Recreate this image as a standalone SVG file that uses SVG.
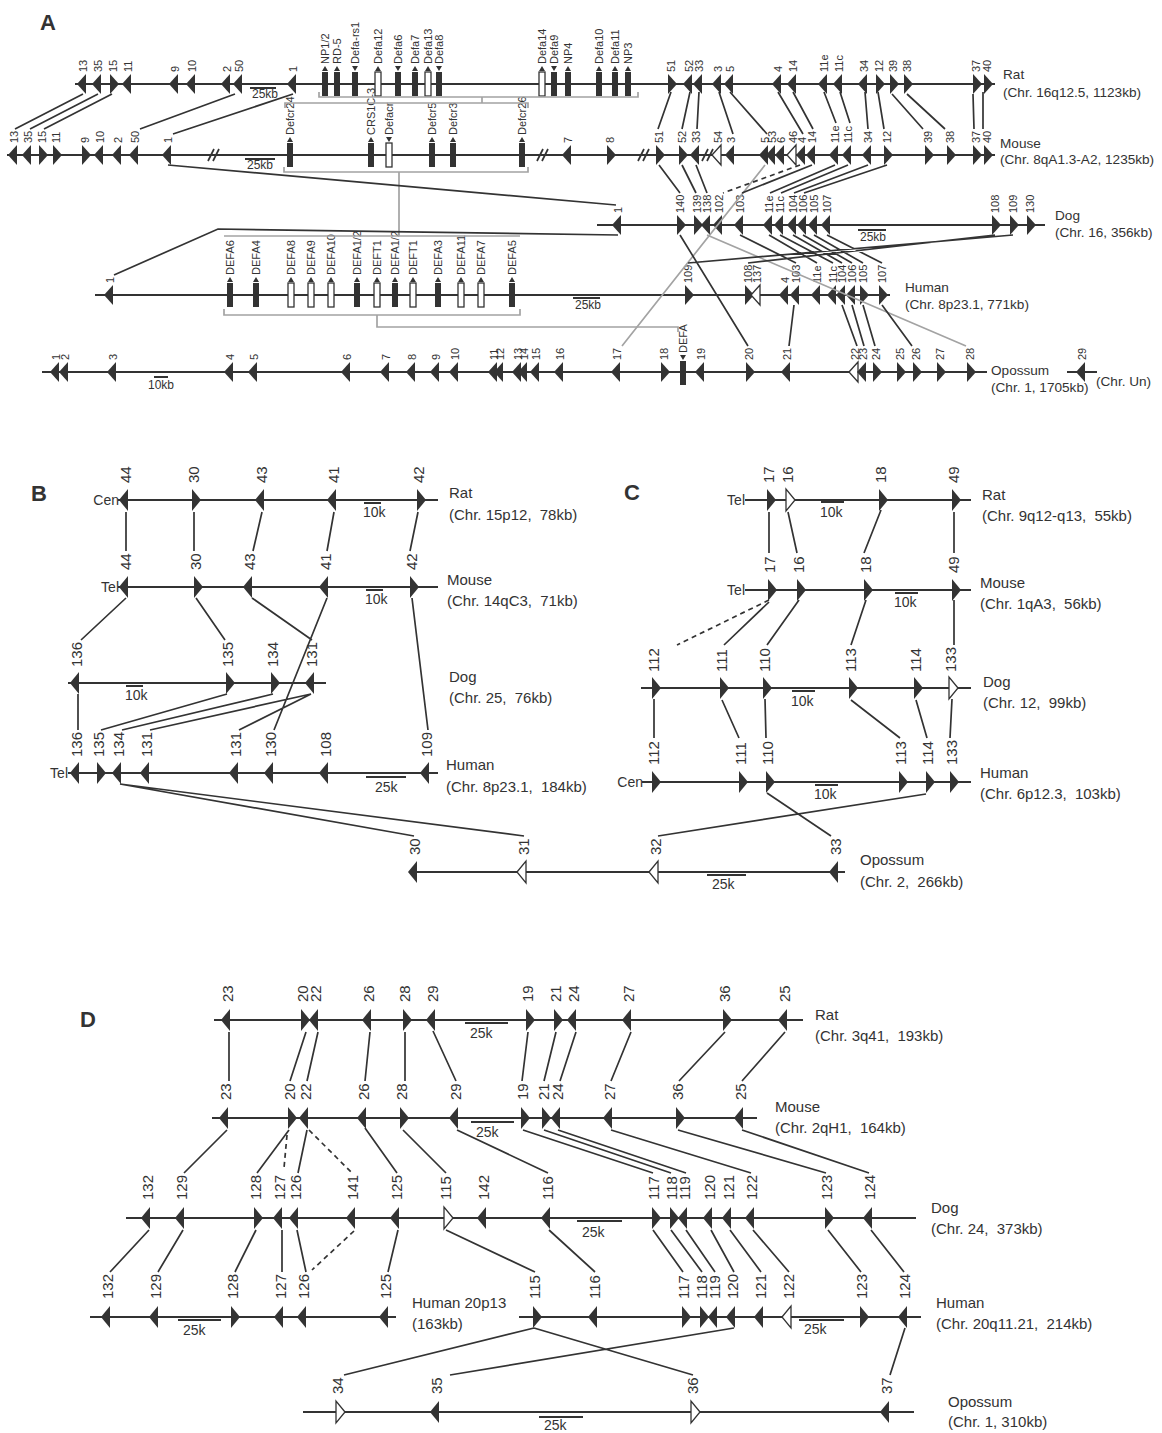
<svg xmlns="http://www.w3.org/2000/svg" xmlns:xlink="http://www.w3.org/1999/xlink" width="1162" height="1433" viewBox="0 0 1162 1433">
<style>
.ch{stroke:#333;stroke-width:2;fill:none}
.c{stroke:#333;stroke-width:1.7;fill:none}
.d{stroke:#333;stroke-width:1.7;fill:none;stroke-dasharray:5 4}
.g{stroke:#a3a3a3;stroke-width:1.7;fill:none}
.sb{stroke:#333;stroke-width:2;fill:none}
.f{fill:#333}
.o{fill:#fff;stroke:#333;stroke-width:1.3}
.rf{fill:#333}
.ro{fill:#fff;stroke:#333;stroke-width:1.3}
text{font-family:"Liberation Sans",Arial,sans-serif;fill:#333}
.na{font-size:11px}
.n{font-size:15px}
.sa{font-size:13.6px}
.s{font-size:15px}
.ka{font-size:12px}
.k{font-size:14px}
.t{font-size:14px;text-anchor:end}
.P{font-size:22px;font-weight:bold}
</style>
<defs>
<polygon id="aL" points="-6,0 3,-10 3,10"/>
<polygon id="aR" points="6,0 -3,-10 -3,10"/>
<polygon id="L" points="-7,0 2,-11 2,11"/>
<polygon id="R" points="7,0 -2,-11 -2,11"/>
</defs>
<rect width="1162" height="1433" fill="#fff"/>

<!-- ================= PANEL A ================= -->
<text class="P" x="40" y="30">A</text>

<g id="A-rat">
<path class="ch" d="M75,84 H995"/>
<use href="#aL" x="83" y="84" class="f"/><use href="#aL" x="98" y="84" class="f"/><use href="#aR" x="113" y="84" class="f"/><use href="#aL" x="128" y="84" class="f"/>
<use href="#aL" x="175" y="84" class="f"/><use href="#aL" x="192" y="84" class="f"/><use href="#aL" x="227" y="84" class="f"/><use href="#aL" x="239" y="84" class="f"/><use href="#aL" x="293" y="84" class="f"/>
<use href="#aR" x="671" y="84" class="f"/><use href="#aL" x="689" y="84" class="f"/><use href="#aL" x="699" y="84" class="f"/><use href="#aL" x="718" y="84" class="f"/><use href="#aL" x="730" y="84" class="f"/>
<use href="#aL" x="778" y="84" class="f"/><use href="#aL" x="793" y="84" class="f"/><use href="#aL" x="824" y="84" class="f"/><use href="#aL" x="839" y="84" class="f"/><use href="#aL" x="864" y="84" class="f"/>
<use href="#aR" x="879" y="84" class="f"/><use href="#aR" x="893" y="84" class="f"/><use href="#aR" x="907" y="84" class="f"/><use href="#aR" x="976" y="84" class="f"/><use href="#aR" x="987" y="84" class="f"/>
<g class="na">
<text transform="translate(87,72) rotate(-90)">13</text><text transform="translate(102,72) rotate(-90)">35</text><text transform="translate(117,72) rotate(-90)">15</text><text transform="translate(132,72) rotate(-90)">11</text>
<text transform="translate(179,72) rotate(-90)">9</text><text transform="translate(196,72) rotate(-90)">10</text><text transform="translate(231,72) rotate(-90)">2</text><text transform="translate(243,72) rotate(-90)">50</text><text transform="translate(297,72) rotate(-90)">1</text>
<text transform="translate(675,72) rotate(-90)">51</text><text transform="translate(693,72) rotate(-90)">52</text><text transform="translate(703,72) rotate(-90)">33</text><text transform="translate(722,72) rotate(-90)">3</text><text transform="translate(734,72) rotate(-90)">5</text>
<text transform="translate(782,72) rotate(-90)">4</text><text transform="translate(797,72) rotate(-90)">14</text><text transform="translate(828,72) rotate(-90)">11e</text><text transform="translate(843,72) rotate(-90)">11c</text><text transform="translate(868,72) rotate(-90)">34</text>
<text transform="translate(883,72) rotate(-90)">12</text><text transform="translate(897,72) rotate(-90)">39</text><text transform="translate(911,72) rotate(-90)">38</text><text transform="translate(980,72) rotate(-90)">37</text><text transform="translate(991,72) rotate(-90)">40</text>
</g>
<rect class="rf" x="322" y="72" width="6" height="24"/><rect class="rf" x="334" y="72" width="6" height="24"/><rect class="rf" x="352" y="72" width="6" height="24"/><rect class="ro" x="375" y="72" width="6" height="24"/>
<rect class="rf" x="395" y="72" width="6" height="24"/><rect class="rf" x="412" y="72" width="6" height="24"/><rect class="ro" x="425" y="72" width="6" height="24"/><rect class="rf" x="436" y="72" width="6" height="24"/>
<rect class="ro" x="539" y="72" width="6" height="24"/><rect class="rf" x="551" y="72" width="6" height="24"/><rect class="rf" x="565" y="72" width="6" height="24"/><rect class="rf" x="596" y="72" width="6" height="24"/><rect class="rf" x="612" y="72" width="6" height="24"/><rect class="rf" x="625" y="72" width="6" height="24"/>
<g class="f">
<polygon points="322,71 325,66 328,71"/><polygon points="334,71 337,66 340,71"/><polygon points="352,66 358,66 355,71"/><polygon points="375,71 378,66 381,71"/>
<polygon points="395,66 401,66 398,71"/><polygon points="412,71 415,66 418,71"/><polygon points="425,71 428,66 431,71"/><polygon points="436,66 442,66 439,71"/>
<polygon points="539,71 542,66 545,71"/><polygon points="551,66 557,66 554,71"/><polygon points="565,71 568,66 571,71"/><polygon points="596,71 599,66 602,71"/><polygon points="612,71 615,66 618,71"/><polygon points="625,71 628,66 631,71"/>
</g>
<g class="na">
<text transform="translate(329,64) rotate(-90)">NP1/2</text><text transform="translate(341,64) rotate(-90)">RD-5</text><text transform="translate(359,64) rotate(-90)">Defa-rs1</text><text transform="translate(382,64) rotate(-90)">Defa12</text>
<text transform="translate(402,64) rotate(-90)">Defa6</text><text transform="translate(419,64) rotate(-90)">Defa7</text><text transform="translate(432,64) rotate(-90)">Defa13</text><text transform="translate(443,64) rotate(-90)">Defa8</text>
<text transform="translate(546,64) rotate(-90)">Defa14</text><text transform="translate(558,64) rotate(-90)">Defa9</text><text transform="translate(572,64) rotate(-90)">NP4</text><text transform="translate(603,64) rotate(-90)">Defa10</text><text transform="translate(619,64) rotate(-90)">Defa11</text><text transform="translate(632,64) rotate(-90)">NP3</text>
</g>
<path class="sb" d="M250,88 H276"/><text class="ka" x="252" y="98">25kb</text>
<text class="sa" x="1003" y="79">Rat</text><text class="sa" x="1003" y="97">(Chr. 16q12.5, 1123kb)</text>
</g>

<g id="A-mouse">
<path class="ch" d="M7,155 H995"/>
<g class="c"><path d="M208,161 L214,149 M213,161 L219,149"/><path d="M537,161 L543,149 M542,161 L548,149"/><path d="M638,161 L644,149 M643,161 L649,149"/><path d="M702,161 L708,149 M707,161 L713,149"/></g>
<use href="#aL" x="14" y="155" class="f"/><use href="#aL" x="28" y="155" class="f"/><use href="#aR" x="42" y="155" class="f"/><use href="#aR" x="56" y="155" class="f"/>
<use href="#aR" x="85" y="155" class="f"/><use href="#aL" x="100" y="155" class="f"/><use href="#aL" x="118" y="155" class="f"/><use href="#aL" x="135" y="155" class="f"/><use href="#aL" x="168" y="155" class="f"/>
<use href="#aL" x="568" y="155" class="f"/><use href="#aR" x="610" y="155" class="f"/>
<use href="#aR" x="659" y="155" class="f"/><use href="#aR" x="682" y="155" class="f"/><use href="#aL" x="696" y="155" class="f"/><use href="#aL" x="718" y="155" class="o"/><use href="#aL" x="731" y="155" class="f"/>
<use href="#aL" x="765" y="155" class="f"/><use href="#aL" x="772" y="155" class="f"/><use href="#aL" x="781" y="155" class="f"/><use href="#aL" x="793" y="155" class="o"/><use href="#aL" x="802" y="155" class="f"/><use href="#aL" x="812" y="155" class="f"/>
<use href="#aL" x="835" y="155" class="f"/><use href="#aL" x="848" y="155" class="f"/><use href="#aL" x="868" y="155" class="f"/><use href="#aR" x="887" y="155" class="f"/>
<use href="#aR" x="928" y="155" class="f"/><use href="#aR" x="950" y="155" class="f"/><use href="#aR" x="976" y="155" class="f"/><use href="#aR" x="987" y="155" class="f"/>
<g class="na">
<text transform="translate(18,143) rotate(-90)">13</text><text transform="translate(32,143) rotate(-90)">35</text><text transform="translate(46,143) rotate(-90)">15</text><text transform="translate(60,143) rotate(-90)">11</text>
<text transform="translate(89,143) rotate(-90)">9</text><text transform="translate(104,143) rotate(-90)">10</text><text transform="translate(122,143) rotate(-90)">2</text><text transform="translate(139,143) rotate(-90)">50</text><text transform="translate(172,143) rotate(-90)">1</text>
<text transform="translate(572,143) rotate(-90)">7</text><text transform="translate(614,143) rotate(-90)">8</text>
<text transform="translate(663,143) rotate(-90)">51</text><text transform="translate(686,143) rotate(-90)">52</text><text transform="translate(700,143) rotate(-90)">33</text><text transform="translate(722,143) rotate(-90)">54</text><text transform="translate(735,143) rotate(-90)">3</text>
<text transform="translate(769,143) rotate(-90)">5</text><text transform="translate(776,143) rotate(-90)">53</text><text transform="translate(785,143) rotate(-90)">6</text><text transform="translate(797,143) rotate(-90)">46</text><text transform="translate(806,143) rotate(-90)">4</text><text transform="translate(816,143) rotate(-90)">14</text>
<text transform="translate(839,143) rotate(-90)">11e</text><text transform="translate(852,143) rotate(-90)">11c</text><text transform="translate(872,143) rotate(-90)">34</text><text transform="translate(891,143) rotate(-90)">12</text>
<text transform="translate(932,143) rotate(-90)">39</text><text transform="translate(954,143) rotate(-90)">38</text><text transform="translate(980,143) rotate(-90)">37</text><text transform="translate(991,143) rotate(-90)">40</text>
</g>
<rect class="rf" x="287" y="143" width="6" height="24"/><rect class="rf" x="368" y="143" width="6" height="24"/><rect class="ro" x="386" y="143" width="6" height="24"/><rect class="rf" x="429" y="143" width="6" height="24"/><rect class="rf" x="450" y="143" width="6" height="24"/><rect class="rf" x="519" y="143" width="6" height="24"/>
<g class="f"><polygon points="287,142 290,137 293,142"/><polygon points="368,142 371,137 374,142"/><polygon points="386,137 392,137 389,142"/><polygon points="429,142 432,137 435,142"/><polygon points="450,142 453,137 456,142"/><polygon points="519,142 522,137 525,142"/></g>
<g class="na">
<text transform="translate(294,135) rotate(-90)">Defcr24</text><text transform="translate(375,135) rotate(-90)">CRS1C-3</text><text transform="translate(393,135) rotate(-90)">Defacr</text><text transform="translate(436,135) rotate(-90)">Defcr5</text><text transform="translate(457,135) rotate(-90)">Defcr3</text><text transform="translate(526,135) rotate(-90)">Defcr26</text>
</g>
<path class="sb" d="M245,159 H275"/><text class="ka" x="247" y="169">25kb</text>
<text class="sa" x="1000" y="148">Mouse</text><text class="sa" x="1000" y="164">(Chr. 8qA1.3-A2, 1235kb)</text>
</g>

<g id="A-dog">
<path class="ch" d="M597,225 H1045"/>
<use href="#aL" x="618" y="225" class="f"/><use href="#aR" x="680" y="225" class="f"/><use href="#aR" x="697" y="225" class="f"/><use href="#aL" x="707" y="225" class="f"/><use href="#aL" x="719" y="225" class="f"/><use href="#aL" x="740" y="225" class="f"/>
<use href="#aL" x="769" y="225" class="f"/><use href="#aL" x="780" y="225" class="f"/><use href="#aL" x="793" y="225" class="f"/><use href="#aL" x="803" y="225" class="f"/><use href="#aL" x="814" y="225" class="f"/><use href="#aL" x="827" y="225" class="f"/>
<use href="#aR" x="995" y="225" class="f"/><use href="#aR" x="1013" y="225" class="f"/><use href="#aR" x="1030" y="225" class="f"/>
<g class="na">
<text transform="translate(622,213) rotate(-90)">1</text><text transform="translate(684,213) rotate(-90)">140</text><text transform="translate(701,213) rotate(-90)">139</text><text transform="translate(711,213) rotate(-90)">138</text><text transform="translate(723,213) rotate(-90)">102</text><text transform="translate(744,213) rotate(-90)">103</text>
<text transform="translate(773,213) rotate(-90)">11e</text><text transform="translate(784,213) rotate(-90)">11c</text><text transform="translate(797,213) rotate(-90)">104</text><text transform="translate(807,213) rotate(-90)">106</text><text transform="translate(818,213) rotate(-90)">105</text><text transform="translate(831,213) rotate(-90)">107</text>
<text transform="translate(999,213) rotate(-90)">108</text><text transform="translate(1017,213) rotate(-90)">109</text><text transform="translate(1034,213) rotate(-90)">130</text>
</g>
<path class="sb" d="M858,230 H886"/><text class="ka" x="860" y="241">25kb</text>
<text class="sa" x="1055" y="220">Dog</text><text class="sa" x="1055" y="237">(Chr. 16, 356kb)</text>
</g>

<g id="A-human">
<path class="ch" d="M95,295 H890"/>
<use href="#aL" x="110" y="295" class="f"/>
<use href="#aR" x="688" y="295" class="f"/><use href="#aR" x="748" y="295" class="f"/><use href="#aL" x="757" y="295" class="o"/><use href="#aL" x="785" y="295" class="f"/><use href="#aL" x="796" y="295" class="f"/>
<use href="#aL" x="817" y="295" class="f"/><use href="#aL" x="833" y="295" class="f"/><use href="#aL" x="842" y="295" class="f"/><use href="#aL" x="852" y="295" class="f"/><use href="#aR" x="863" y="295" class="f"/><use href="#aR" x="882" y="295" class="f"/>
<g class="na">
<text transform="translate(114,283) rotate(-90)">1</text>
<text transform="translate(692,283) rotate(-90)">109</text><text transform="translate(752,283) rotate(-90)">108</text><text transform="translate(761,283) rotate(-90)">137</text><text transform="translate(789,283) rotate(-90)">4</text><text transform="translate(800,283) rotate(-90)">103</text>
<text transform="translate(821,283) rotate(-90)">11e</text><text transform="translate(837,283) rotate(-90)">11c</text><text transform="translate(846,283) rotate(-90)">104</text><text transform="translate(856,283) rotate(-90)">106</text><text transform="translate(867,283) rotate(-90)">105</text><text transform="translate(886,283) rotate(-90)">107</text>
</g>
<rect class="rf" x="227" y="283" width="6" height="24"/><rect class="rf" x="253" y="283" width="6" height="24"/><rect class="ro" x="288" y="283" width="6" height="24"/><rect class="ro" x="308" y="283" width="6" height="24"/><rect class="ro" x="328" y="283" width="6" height="24"/>
<rect class="rf" x="354" y="283" width="6" height="24"/><rect class="ro" x="374" y="283" width="6" height="24"/><rect class="rf" x="392" y="283" width="6" height="24"/><rect class="ro" x="410" y="283" width="6" height="24"/>
<rect class="rf" x="435" y="283" width="6" height="24"/><rect class="ro" x="458" y="283" width="6" height="24"/><rect class="ro" x="478" y="283" width="6" height="24"/><rect class="rf" x="509" y="283" width="6" height="24"/>
<g class="f">
<polygon points="227,282 230,277 233,282"/><polygon points="253,282 256,277 259,282"/><polygon points="288,282 291,277 294,282"/><polygon points="308,282 311,277 314,282"/><polygon points="328,282 331,277 334,282"/>
<polygon points="354,282 357,277 360,282"/><polygon points="374,282 377,277 380,282"/><polygon points="392,282 395,277 398,282"/><polygon points="410,282 413,277 416,282"/>
<polygon points="435,282 438,277 441,282"/><polygon points="458,282 461,277 464,282"/><polygon points="478,282 481,277 484,282"/><polygon points="509,282 512,277 515,282"/>
</g>
<g class="na">
<text transform="translate(234,275) rotate(-90)">DEFA6</text><text transform="translate(260,275) rotate(-90)">DEFA4</text><text transform="translate(295,275) rotate(-90)">DEFA8</text><text transform="translate(315,275) rotate(-90)">DEFA9</text><text transform="translate(335,275) rotate(-90)">DEFA10</text>
<text transform="translate(361,275) rotate(-90)">DEFA1/2</text><text transform="translate(381,275) rotate(-90)">DEFT1</text><text transform="translate(399,275) rotate(-90)">DEFA1/2</text><text transform="translate(417,275) rotate(-90)">DEFT1</text>
<text transform="translate(442,275) rotate(-90)">DEFA3</text><text transform="translate(465,275) rotate(-90)">DEFA11</text><text transform="translate(485,275) rotate(-90)">DEFA7</text><text transform="translate(516,275) rotate(-90)">DEFA5</text>
</g>
<path class="sb" d="M573,298 H600"/><text class="ka" x="575" y="309">25kb</text>
<text class="sa" x="905" y="292">Human</text><text class="sa" x="905" y="309">(Chr. 8p23.1, 771kb)</text>
</g>

<g id="A-opossum">
<path class="ch" d="M42,372 H987"/>
<use href="#aL" x="56" y="372" class="f"/><use href="#aL" x="65" y="372" class="f"/><use href="#aL" x="113" y="372" class="f"/><use href="#aL" x="230" y="372" class="f"/><use href="#aL" x="254" y="372" class="f"/>
<use href="#aL" x="347" y="372" class="f"/><use href="#aL" x="386" y="372" class="f"/><use href="#aL" x="412" y="372" class="f"/><use href="#aL" x="436" y="372" class="f"/><use href="#aL" x="455" y="372" class="f"/>
<use href="#aL" x="494" y="372" class="f"/><use href="#aL" x="500" y="372" class="f"/><use href="#aL" x="518" y="372" class="f"/><use href="#aL" x="524" y="372" class="f"/><use href="#aL" x="536" y="372" class="f"/><use href="#aL" x="560" y="372" class="f"/>
<use href="#aL" x="617" y="372" class="f"/><use href="#aR" x="664" y="372" class="f"/><use href="#aL" x="701" y="372" class="f"/><use href="#aR" x="749" y="372" class="f"/><use href="#aL" x="787" y="372" class="f"/>
<use href="#aL" x="855" y="372" class="o"/><use href="#aL" x="863" y="372" class="f"/><use href="#aR" x="876" y="372" class="f"/><use href="#aR" x="900" y="372" class="f"/><use href="#aR" x="916" y="372" class="f"/><use href="#aR" x="940" y="372" class="f"/><use href="#aR" x="970" y="372" class="f"/>
<rect class="rf" x="680" y="361" width="6" height="24"/><polygon class="f" points="680,355 686,355 683,360"/>
<g class="na">
<text transform="translate(60,360) rotate(-90)">1</text><text transform="translate(69,360) rotate(-90)">2</text><text transform="translate(117,360) rotate(-90)">3</text><text transform="translate(234,360) rotate(-90)">4</text><text transform="translate(258,360) rotate(-90)">5</text>
<text transform="translate(351,360) rotate(-90)">6</text><text transform="translate(390,360) rotate(-90)">7</text><text transform="translate(416,360) rotate(-90)">8</text><text transform="translate(440,360) rotate(-90)">9</text><text transform="translate(459,360) rotate(-90)">10</text>
<text transform="translate(498,360) rotate(-90)">11</text><text transform="translate(504,360) rotate(-90)">12</text><text transform="translate(522,360) rotate(-90)">13</text><text transform="translate(528,360) rotate(-90)">14</text><text transform="translate(540,360) rotate(-90)">15</text><text transform="translate(564,360) rotate(-90)">16</text>
<text transform="translate(621,360) rotate(-90)">17</text><text transform="translate(668,360) rotate(-90)">18</text><text transform="translate(687,353) rotate(-90)">DEFA</text><text transform="translate(705,360) rotate(-90)">19</text><text transform="translate(753,360) rotate(-90)">20</text><text transform="translate(791,360) rotate(-90)">21</text>
<text transform="translate(859,360) rotate(-90)">22</text><text transform="translate(867,360) rotate(-90)">23</text><text transform="translate(880,360) rotate(-90)">24</text><text transform="translate(904,360) rotate(-90)">25</text><text transform="translate(920,360) rotate(-90)">26</text><text transform="translate(944,360) rotate(-90)">27</text><text transform="translate(974,360) rotate(-90)">28</text>
</g>
<path class="sb" d="M154,377 H168"/><text class="ka" x="148" y="389">10kb</text>
<text class="sa" x="991" y="375">Opossum</text><text class="sa" x="991" y="392">(Chr. 1, 1705kb)</text>
</g>
<g id="A-opossum-un">
<path class="ch" d="M1067,372 H1097"/><use href="#aL" x="1082" y="372" class="f"/>
<text class="na" transform="translate(1086,360) rotate(-90)">29</text>
<text class="sa" x="1096" y="386">(Chr. Un)</text>
</g>

<!-- ================= PANEL B ================= -->
<text class="P" x="31" y="501">B</text>
<g id="B-rat">
<text class="t" x="119" y="505">Cen</text>
<path class="ch" d="M118,500 H438"/>
<use href="#L" x="126" y="500" class="f"/><use href="#R" x="194" y="500" class="f"/><use href="#L" x="262" y="500" class="f"/><use href="#L" x="334" y="500" class="f"/><use href="#R" x="419" y="500" class="f"/>
<g class="n"><text transform="translate(131,483) rotate(-90)">44</text><text transform="translate(199,483) rotate(-90)">30</text><text transform="translate(267,483) rotate(-90)">43</text><text transform="translate(339,483) rotate(-90)">41</text><text transform="translate(424,483) rotate(-90)">42</text></g>
<path class="sb" d="M364,503 H381"/><text class="k" x="363" y="517">10k</text>
<text class="s" x="449" y="498">Rat</text><text class="s" x="449" y="520">(Chr. 15p12, <tspan dx="4">78kb)</tspan></text>
</g>
<g id="B-mouse">
<text class="t" x="119" y="592">Tel</text>
<path class="ch" d="M118,587 H438"/>
<use href="#L" x="126" y="587" class="f"/><use href="#R" x="196" y="587" class="f"/><use href="#L" x="250" y="587" class="f"/><use href="#L" x="326" y="587" class="f"/><use href="#R" x="412" y="587" class="f"/>
<g class="n"><text transform="translate(131,570) rotate(-90)">44</text><text transform="translate(201,570) rotate(-90)">30</text><text transform="translate(255,570) rotate(-90)">43</text><text transform="translate(331,570) rotate(-90)">41</text><text transform="translate(417,570) rotate(-90)">42</text></g>
<path class="sb" d="M366,590 H383"/><text class="k" x="365" y="604">10k</text>
<text class="s" x="447" y="585">Mouse</text><text class="s" x="447" y="606">(Chr. 14qC3, <tspan dx="4">71kb)</tspan></text>
</g>
<g id="B-dog">
<path class="ch" d="M68,683 H326"/>
<use href="#L" x="77" y="683" class="f"/><use href="#R" x="228" y="683" class="f"/><use href="#R" x="273" y="683" class="f"/><use href="#L" x="312" y="683" class="f"/>
<g class="n"><text transform="translate(82,667) rotate(-90)">136</text><text transform="translate(233,667) rotate(-90)">135</text><text transform="translate(278,667) rotate(-90)">134</text><text transform="translate(317,667) rotate(-90)">131</text></g>
<path class="sb" d="M126,686 H143"/><text class="k" x="125" y="700">10k</text>
<text class="s" x="449" y="682">Dog</text><text class="s" x="449" y="703">(Chr. 25, <tspan dx="4">76kb)</tspan></text>
</g>
<g id="B-human">
<text class="t" x="68" y="778">Tel</text>
<path class="ch" d="M68,773 H438"/>
<use href="#L" x="77" y="773" class="f"/><use href="#R" x="99" y="773" class="f"/><use href="#L" x="119" y="773" class="f"/><use href="#L" x="147" y="773" class="f"/><use href="#L" x="236" y="773" class="f"/><use href="#L" x="271" y="773" class="f"/><use href="#L" x="326" y="773" class="f"/><use href="#L" x="427" y="773" class="f"/>
<g class="n"><text transform="translate(82,757) rotate(-90)">136</text><text transform="translate(104,757) rotate(-90)">135</text><text transform="translate(124,757) rotate(-90)">134</text><text transform="translate(152,757) rotate(-90)">131</text><text transform="translate(241,757) rotate(-90)">131</text><text transform="translate(276,757) rotate(-90)">130</text><text transform="translate(331,757) rotate(-90)">108</text><text transform="translate(432,757) rotate(-90)">109</text></g>
<path class="sb" d="M366,777 H406"/><text class="k" x="375" y="792">25k</text>
<text class="s" x="446" y="770">Human</text><text class="s" x="446" y="792">(Chr. 8p23.1, <tspan dx="4">184kb)</tspan></text>
</g>
<g id="BC-opossum">
<path class="ch" d="M409,872 H845"/>
<use href="#L" x="415" y="872" class="f"/><use href="#L" x="524" y="872" class="o"/><use href="#L" x="656" y="872" class="o"/><use href="#L" x="836" y="872" class="f"/>
<g class="n"><text transform="translate(420,855) rotate(-90)">30</text><text transform="translate(529,855) rotate(-90)">31</text><text transform="translate(661,855) rotate(-90)">32</text><text transform="translate(841,855) rotate(-90)">33</text></g>
<path class="sb" d="M707,875 H746"/><text class="k" x="712" y="889">25k</text>
<text class="s" x="860" y="865">Opossum</text><text class="s" x="860" y="887">(Chr. 2, <tspan dx="4">266kb)</tspan></text>
</g>

<!-- ================= PANEL C ================= -->
<text class="P" x="624" y="500">C</text>
<g id="C-rat">
<text class="t" x="745" y="505">Tel</text>
<path class="ch" d="M745,500 H971"/>
<use href="#R" x="769" y="500" class="f"/><use href="#R" x="788" y="500" class="o"/><use href="#R" x="881" y="500" class="f"/><use href="#R" x="954" y="500" class="f"/>
<g class="n"><text transform="translate(774,483) rotate(-90)">17</text><text transform="translate(793,483) rotate(-90)">16</text><text transform="translate(886,483) rotate(-90)">18</text><text transform="translate(959,483) rotate(-90)">49</text></g>
<path class="sb" d="M821,502 H844"/><text class="k" x="820" y="517">10k</text>
<text class="s" x="982" y="500">Rat</text><text class="s" x="982" y="521">(Chr. 9q12-q13, <tspan dx="4">55kb)</tspan></text>
</g>
<g id="C-mouse">
<text class="t" x="745" y="595">Tel</text>
<path class="ch" d="M745,590 H971"/>
<use href="#R" x="770" y="590" class="f"/><use href="#R" x="799" y="590" class="f"/><use href="#R" x="866" y="590" class="f"/><use href="#R" x="954" y="590" class="f"/>
<g class="n"><text transform="translate(775,573) rotate(-90)">17</text><text transform="translate(804,573) rotate(-90)">16</text><text transform="translate(871,573) rotate(-90)">18</text><text transform="translate(959,573) rotate(-90)">49</text></g>
<path class="sb" d="M895,593 H918"/><text class="k" x="894" y="607">10k</text>
<text class="s" x="980" y="588">Mouse</text><text class="s" x="980" y="609">(Chr. 1qA3, <tspan dx="4">56kb)</tspan></text>
</g>
<g id="C-dog">
<path class="ch" d="M641,688 H971"/>
<use href="#R" x="654" y="688" class="f"/><use href="#R" x="722" y="688" class="f"/><use href="#R" x="765" y="688" class="f"/><use href="#R" x="851" y="688" class="f"/><use href="#R" x="916" y="688" class="f"/><use href="#R" x="951" y="688" class="o"/>
<g class="n"><text transform="translate(659,672) rotate(-90)">112</text><text transform="translate(727,672) rotate(-90)">111</text><text transform="translate(770,672) rotate(-90)">110</text><text transform="translate(856,672) rotate(-90)">113</text><text transform="translate(921,672) rotate(-90)">114</text><text transform="translate(956,672) rotate(-90)">133</text></g>
<path class="sb" d="M792,691 H815"/><text class="k" x="791" y="706">10k</text>
<text class="s" x="983" y="687">Dog</text><text class="s" x="983" y="708">(Chr. 12, <tspan dx="4">99kb)</tspan></text>
</g>
<g id="C-human">
<text class="t" x="643" y="787">Cen</text>
<path class="ch" d="M642,782 H971"/>
<use href="#R" x="654" y="782" class="f"/><use href="#R" x="741" y="782" class="f"/><use href="#R" x="768" y="782" class="f"/><use href="#R" x="901" y="782" class="f"/><use href="#R" x="928" y="782" class="f"/><use href="#R" x="952" y="782" class="f"/>
<g class="n"><text transform="translate(659,765) rotate(-90)">112</text><text transform="translate(746,765) rotate(-90)">111</text><text transform="translate(773,765) rotate(-90)">110</text><text transform="translate(906,765) rotate(-90)">113</text><text transform="translate(933,765) rotate(-90)">114</text><text transform="translate(957,765) rotate(-90)">133</text></g>
<path class="sb" d="M815,785 H838"/><text class="k" x="814" y="799">10k</text>
<text class="s" x="980" y="778">Human</text><text class="s" x="980" y="799">(Chr. 6p12.3, <tspan dx="4">103kb)</tspan></text>
</g>

<!-- ================= PANEL D ================= -->
<text class="P" x="80" y="1027">D</text>
<g id="D-rat">
<path class="ch" d="M214,1020 H803"/>
<use href="#L" x="228" y="1020" class="f"/><use href="#R" x="303" y="1020" class="f"/><use href="#L" x="316" y="1020" class="f"/><use href="#L" x="369" y="1020" class="f"/><use href="#R" x="405" y="1020" class="f"/><use href="#L" x="433" y="1020" class="f"/>
<use href="#R" x="528" y="1020" class="f"/><use href="#R" x="556" y="1020" class="f"/><use href="#L" x="574" y="1020" class="f"/><use href="#L" x="629" y="1020" class="f"/><use href="#R" x="725" y="1020" class="f"/><use href="#L" x="785" y="1020" class="f"/>
<g class="n"><text transform="translate(233,1002) rotate(-90)">23</text><text transform="translate(308,1002) rotate(-90)">20</text><text transform="translate(321,1002) rotate(-90)">22</text><text transform="translate(374,1002) rotate(-90)">26</text><text transform="translate(410,1002) rotate(-90)">28</text><text transform="translate(438,1002) rotate(-90)">29</text>
<text transform="translate(533,1002) rotate(-90)">19</text><text transform="translate(561,1002) rotate(-90)">21</text><text transform="translate(579,1002) rotate(-90)">24</text><text transform="translate(634,1002) rotate(-90)">27</text><text transform="translate(730,1002) rotate(-90)">36</text><text transform="translate(790,1002) rotate(-90)">25</text></g>
<path class="sb" d="M465,1023 H508"/><text class="k" x="470" y="1038">25k</text>
<text class="s" x="815" y="1020">Rat</text><text class="s" x="815" y="1041">(Chr. 3q41, <tspan dx="4">193kb)</tspan></text>
</g>
<g id="D-mouse">
<path class="ch" d="M212,1118 H757"/>
<use href="#L" x="226" y="1118" class="f"/><use href="#R" x="290" y="1118" class="f"/><use href="#L" x="306" y="1118" class="f"/><use href="#L" x="364" y="1118" class="f"/><use href="#R" x="402" y="1118" class="f"/><use href="#L" x="456" y="1118" class="f"/>
<use href="#R" x="523" y="1118" class="f"/><use href="#R" x="544" y="1118" class="f"/><use href="#L" x="558" y="1118" class="f"/><use href="#L" x="610" y="1118" class="f"/><use href="#R" x="678" y="1118" class="f"/><use href="#L" x="741" y="1118" class="f"/>
<g class="n"><text transform="translate(231,1100) rotate(-90)">23</text><text transform="translate(295,1100) rotate(-90)">20</text><text transform="translate(311,1100) rotate(-90)">22</text><text transform="translate(369,1100) rotate(-90)">26</text><text transform="translate(407,1100) rotate(-90)">28</text><text transform="translate(461,1100) rotate(-90)">29</text>
<text transform="translate(528,1100) rotate(-90)">19</text><text transform="translate(549,1100) rotate(-90)">21</text><text transform="translate(563,1100) rotate(-90)">24</text><text transform="translate(615,1100) rotate(-90)">27</text><text transform="translate(683,1100) rotate(-90)">36</text><text transform="translate(746,1100) rotate(-90)">25</text></g>
<path class="sb" d="M471,1122 H514"/><text class="k" x="476" y="1137">25k</text>
<text class="s" x="775" y="1112">Mouse</text><text class="s" x="775" y="1133">(Chr. 2qH1, <tspan dx="4">164kb)</tspan></text>
</g>
<g id="D-dog">
<path class="ch" d="M126,1218 H916"/>
<use href="#L" x="148" y="1218" class="f"/><use href="#L" x="182" y="1218" class="f"/><use href="#R" x="256" y="1218" class="f"/><use href="#L" x="280" y="1218" class="f"/><use href="#L" x="296" y="1218" class="f"/><use href="#L" x="353" y="1218" class="f"/><use href="#L" x="397" y="1218" class="f"/>
<use href="#R" x="446" y="1218" class="o"/><use href="#L" x="484" y="1218" class="f"/><use href="#L" x="548" y="1218" class="f"/><use href="#R" x="654" y="1218" class="f"/><use href="#R" x="672" y="1218" class="f"/><use href="#L" x="685" y="1218" class="f"/>
<use href="#L" x="710" y="1218" class="f"/><use href="#L" x="729" y="1218" class="f"/><use href="#L" x="752" y="1218" class="f"/><use href="#R" x="827" y="1218" class="f"/><use href="#L" x="870" y="1218" class="f"/>
<g class="n"><text transform="translate(153,1200) rotate(-90)">132</text><text transform="translate(187,1200) rotate(-90)">129</text><text transform="translate(261,1200) rotate(-90)">128</text><text transform="translate(285,1200) rotate(-90)">127</text><text transform="translate(301,1200) rotate(-90)">126</text><text transform="translate(358,1200) rotate(-90)">141</text><text transform="translate(402,1200) rotate(-90)">125</text>
<text transform="translate(451,1200) rotate(-90)">115</text><text transform="translate(489,1200) rotate(-90)">142</text><text transform="translate(553,1200) rotate(-90)">116</text><text transform="translate(659,1200) rotate(-90)">117</text><text transform="translate(677,1200) rotate(-90)">118</text><text transform="translate(690,1200) rotate(-90)">119</text>
<text transform="translate(715,1200) rotate(-90)">120</text><text transform="translate(734,1200) rotate(-90)">121</text><text transform="translate(757,1200) rotate(-90)">122</text><text transform="translate(832,1200) rotate(-90)">123</text><text transform="translate(875,1200) rotate(-90)">124</text></g>
<path class="sb" d="M577,1221 H622"/><text class="k" x="582" y="1237">25k</text>
<text class="s" x="931" y="1213">Dog</text><text class="s" x="931" y="1234">(Chr. 24, <tspan dx="4">373kb)</tspan></text>
</g>
<g id="D-human-20p13">
<path class="ch" d="M90,1317 H396"/>
<use href="#L" x="108" y="1317" class="f"/><use href="#L" x="156" y="1317" class="f"/><use href="#R" x="233" y="1317" class="f"/><use href="#L" x="281" y="1317" class="f"/><use href="#L" x="304" y="1317" class="f"/><use href="#L" x="386" y="1317" class="f"/>
<g class="n"><text transform="translate(113,1299) rotate(-90)">132</text><text transform="translate(161,1299) rotate(-90)">129</text><text transform="translate(238,1299) rotate(-90)">128</text><text transform="translate(286,1299) rotate(-90)">127</text><text transform="translate(309,1299) rotate(-90)">126</text><text transform="translate(391,1299) rotate(-90)">125</text></g>
<path class="sb" d="M178,1320 H221"/><text class="k" x="183" y="1335">25k</text>
<text class="s" x="412" y="1308">Human 20p13</text><text class="s" x="412" y="1329">(163kb)</text>
</g>
<g id="D-human-20q11">
<path class="ch" d="M519,1317 H921"/>
<use href="#R" x="535" y="1317" class="f"/><use href="#L" x="595" y="1317" class="f"/><use href="#R" x="684" y="1317" class="f"/><use href="#R" x="702" y="1317" class="f"/><use href="#L" x="715" y="1317" class="f"/>
<use href="#L" x="733" y="1317" class="f"/><use href="#L" x="761" y="1317" class="f"/><use href="#L" x="789" y="1317" class="o"/><use href="#R" x="862" y="1317" class="f"/><use href="#L" x="905" y="1317" class="f"/>
<g class="n"><text transform="translate(540,1299) rotate(-90)">115</text><text transform="translate(600,1299) rotate(-90)">116</text><text transform="translate(689,1299) rotate(-90)">117</text><text transform="translate(707,1299) rotate(-90)">118</text><text transform="translate(720,1299) rotate(-90)">119</text>
<text transform="translate(738,1299) rotate(-90)">120</text><text transform="translate(766,1299) rotate(-90)">121</text><text transform="translate(794,1299) rotate(-90)">122</text><text transform="translate(867,1299) rotate(-90)">123</text><text transform="translate(910,1299) rotate(-90)">124</text></g>
<path class="sb" d="M799,1320 H844"/><text class="k" x="804" y="1334">25k</text>
<text class="s" x="936" y="1308">Human</text><text class="s" x="936" y="1329">(Chr. 20q11.21, <tspan dx="4">214kb)</tspan></text>
</g>
<g id="D-opossum">
<path class="ch" d="M303,1412 H914"/>
<use href="#R" x="338" y="1412" class="o"/><use href="#L" x="437" y="1412" class="f"/><use href="#R" x="693" y="1412" class="o"/><use href="#L" x="887" y="1412" class="f"/>
<g class="n"><text transform="translate(343,1394) rotate(-90)">34</text><text transform="translate(442,1394) rotate(-90)">35</text><text transform="translate(698,1394) rotate(-90)">36</text><text transform="translate(892,1394) rotate(-90)">37</text></g>
<path class="sb" d="M539,1417 H583"/><text class="k" x="544" y="1430">25k</text>
<text class="s" x="948" y="1407">Opossum</text><text class="s" x="948" y="1427">(Chr. 1, 310kb)</text>
</g>

<!-- ================= CONNECTORS ================= -->
<g id="connectors">
<!-- A gray cluster brackets -->
<path class="g" d="M319,92 V97 H638 V92 M482,97 V103 M285,108 V103 H528 V108"/>
<path class="g" d="M284,167 V172 H528 V167 M399,172 V236"/>
<path class="g" d="M224,236 H520"/>
<path class="g" d="M224,309 V315 H520 V309 M377,315 V327 H678 V332"/>
<path class="g" d="M765,165 L622,346 M707,235 L966,346"/>
<!-- A rat-mouse -->
<path class="c" d="M83,94 L15,129 M98,94 L30,129 M112,94 L44,129 M235,94 L140,129 M293,94 L173,134
M671,92 L658,129 M690,92 L682,129 M699,92 L697,129 M719,92 L733,134 M730,92 L767,134 M778,92 L803,134 M793,92 L813,129
M824,92 L836,123 M840,92 L850,123 M865,92 L868,129 M878,92 L884,129 M892,94 L923,129 M907,94 L945,129 M973,94 L974,129 M983,92 L983,129"/>
<!-- A mouse-dog -->
<path class="c" d="M168,165 L616,205 M659,165 L680,193 M682,165 L696,193 M696,165 L707,193
M812,165 L742,193 M835,165 L770,193 M848,165 L781,193 M868,165 L794,193 M887,165 L804,193"/>
<path class="d" d="M800,165 L723,193"/>
<!-- A dog-human -->
<path class="c" d="M618,235 L218,229 L114,275 M680,235 L748,346
M740,235 L796,263 M769,235 L817,263 M780,235 L833,263 M793,235 L842,263 M803,235 L852,263 M814,235 L863,263 M827,235 L882,263
M688,263 L1013,235 M748,263 L995,235"/>
<!-- A human-opossum -->
<path class="c" d="M794,305 L789,346 M842,305 L857,346 M852,305 L864,346 M863,305 L875,346 M882,305 L912,346"/>

<!-- B -->
<path class="c" d="M126,512 V551 M194,512 V551 M262,512 L253,551 M334,512 L327,551 M418,512 L410,551
M126,598 L81,640 M196,598 L225,640 M252,598 L312,640 M327,598 L274,730 M412,598 L428,730
M78,694 V730 M227,694 L101,730 M273,694 L122,730 M311,694 L150,730 M311,694 L239,730
M120,784 L414,836 M120,784 L524,836"/>
<!-- C -->
<path class="c" d="M769,512 V553 M788,512 L797,553 M881,510 L864,553 M954,512 V553
M769,602 L724,645 M799,600 L767,645 M866,600 L851,645 M954,600 V645
M654,699 V738 M722,700 L739,738 M765,699 L766,738 M851,700 L900,738 M916,700 L927,738 M952,699 L950,738
M767,793 L831,836 M926,794 L658,836"/>
<path class="d" d="M769,600 L677,645"/>
<!-- D -->
<path class="c" d="M229,1032 V1081 M306,1032 L290,1081 M318,1032 L307,1081 M370,1032 L365,1081 M405,1032 V1081 M433,1031 L456,1081
M528,1032 L522,1081 M556,1032 L544,1081 M576,1032 L560,1081 M631,1032 L611,1081 M725,1032 L679,1081 M785,1032 L742,1081"/>
<path class="c" d="M227,1130 L184,1173 M289,1130 L257,1173 M307,1130 L298,1173 M365,1128 L397,1173 M403,1130 L446,1173 M457,1130 L548,1173
M523,1130 L653,1173 M544,1130 L671,1173 M558,1130 L686,1173 M611,1130 L751,1173 M678,1130 L826,1173 M742,1130 L869,1173"/>
<path class="d" d="M287,1135 L284,1168 M309,1130 L352,1173"/>
<path class="c" d="M149,1230 L110,1272 M183,1230 L158,1272 M256,1230 L235,1272 M282,1230 V1272 M297,1230 L306,1272 M398,1230 L388,1272
M446,1230 L535,1272 M549,1230 L595,1272 M653,1230 L683,1272 M671,1230 L702,1272 M686,1230 L715,1272 M711,1230 L734,1272 M730,1230 L761,1272 M753,1230 L789,1272 M828,1230 L861,1272 M871,1230 L904,1272"/>
<path class="d" d="M354,1231 L312,1270"/>
<path class="c" d="M534,1328 L344,1375 M534,1328 L693,1375 M734,1328 L450,1375 M905,1328 L890,1375"/>
</g>
</svg>
